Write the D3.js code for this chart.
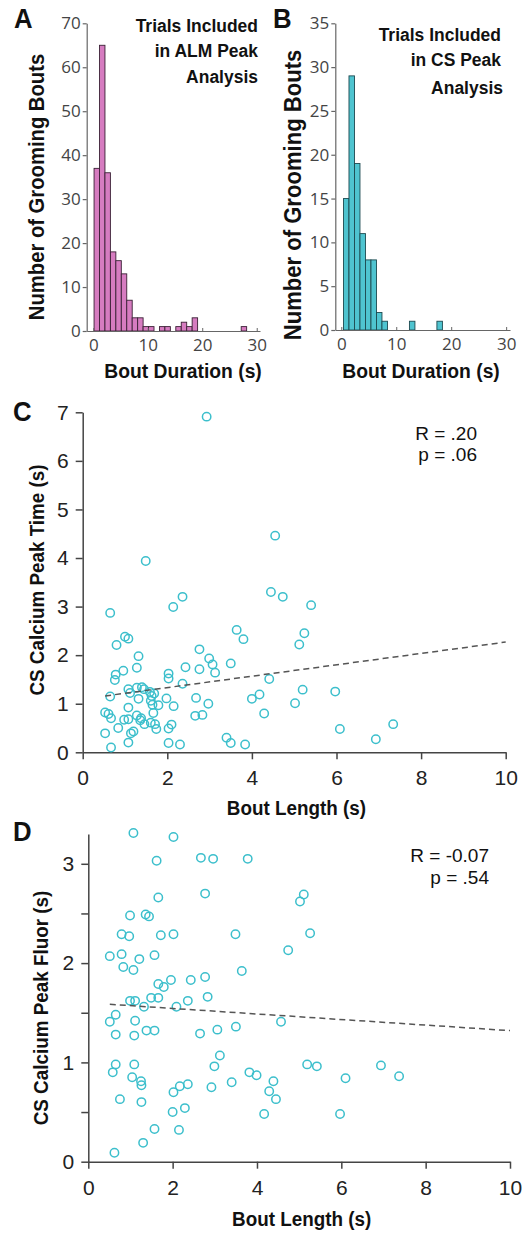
<!DOCTYPE html>
<html>
<head>
<meta charset="utf-8">
<script src="https://cdn.jsdelivr.net/npm/d3@7"></script>
<style>
	body { margin: 0; background: #fff; }
	svg { display: block; }
</style>
</head>
<body>
<svg id="fig" width="522" height="1234"></svg>
<script>
/* global d3 */

// ---- histogram data (bout durations, 1 s bins) ----
const almEdges = [0.15, 1.15, 2.15, 3.15, 4.15, 5.15, 6.15, 7.15, 8.15, 9.15, 10.15, 11.15, 12.15, 13.15, 14.15,
	15.15, 16.15, 17.15, 18.15, 19.15, 20.15, 21.15, 22.15, 23.15, 24.15, 25.15, 26.15, 27.15, 28.15, 29.15, 30.15];
const almCounts = [37, 65, 36, 18, 16, 13, 7, 3, 3, 1, 1, 0, 1, 1, 0, 1, 2, 1, 3, 0, 0, 0, 0, 0, 0, 0, 0, 1, 0, 0];

const csEdges = [0.4, 1.4, 2.4, 3.4, 4.4, 5.4, 6.4, 7.4, 8.4, 9.4, 10.4, 11.4, 12.4, 13.4, 14.4, 15.4, 16.4, 17.4, 18.4];
const csCounts = [15, 29, 19, 11, 8, 8, 2, 1, 0, 0, 0, 0, 1, 0, 0, 0, 0, 1];

const histXTicks = [0, 10, 20, 30];
const almYTicks = [0, 10, 20, 30, 40, 50, 60, 70];
const csYTicks = [0, 5, 10, 15, 20, 25, 30, 35];

// ---- scatter data: [bout length (s), value] ----
const peakTime = [
	[0.65, 2.87], [1.00, 2.38], [1.08, 2.34], [0.80, 2.21], [1.32, 1.98], [1.28, 1.74], [0.96, 1.68], [0.78, 1.60],
	[0.76, 1.49], [0.65, 1.15], [1.08, 1.30], [1.12, 1.22], [1.28, 1.33], [1.40, 1.34], [1.32, 1.10], [1.59, 1.24],
	[1.63, 1.16], [1.61, 1.06], [1.65, 0.98], [1.79, 0.97], [1.67, 0.81], [1.98, 1.11], [2.15, 0.95], [1.08, 0.92],
	[0.53, 0.82], [0.61, 0.79], [0.67, 0.70], [0.98, 0.67], [1.08, 0.68], [1.28, 0.76], [1.38, 0.70], [1.46, 0.58],
	[1.61, 0.61], [1.71, 0.58], [1.74, 0.48], [0.84, 0.50], [1.14, 0.39], [1.20, 0.43], [0.53, 0.39], [1.08, 0.20],
	[0.67, 0.10], [2.03, 0.19], [2.30, 0.16], [2.03, 0.49], [2.10, 0.57], [2.03, 1.62], [2.03, 1.52], [2.36, 1.41],
	[2.43, 1.75], [2.14, 2.99], [2.36, 3.20], [2.76, 2.12], [2.76, 1.71], [2.99, 1.93], [3.07, 1.81], [3.13, 1.64],
	[2.68, 1.12], [2.97, 1.00], [2.66, 0.75], [2.83, 0.77], [3.50, 1.83], [3.64, 2.52], [3.80, 2.33], [3.40, 0.30],
	[3.50, 0.19], [3.84, 0.16], [4.00, 1.10], [4.18, 1.19], [4.29, 0.80], [4.41, 1.51], [5.02, 1.01], [5.12, 2.22],
	[5.24, 2.45], [5.20, 1.29], [5.97, 1.25], [6.08, 0.48], [6.93, 0.27], [7.34, 0.58], [1.49, 3.94], [2.93, 6.91],
	[4.55, 4.46], [4.45, 3.30], [4.73, 3.20], [5.40, 3.03], [1.45, 1.30], [1.69, 1.21], [1.36, 0.66]
];
const peakTimeFit = [[0.53, 1.16], [10, 2.27]];

const peakFluor = [
	[1.07, 3.31], [2.02, 3.27], [1.62, 3.03], [2.67, 3.06], [2.96, 3.05], [3.78, 3.05], [1.66, 2.66], [2.77, 2.70],
	[5.11, 2.69], [5.02, 2.62], [0.99, 2.48], [1.36, 2.49], [1.44, 2.47], [0.79, 2.29], [0.97, 2.27], [1.72, 2.28],
	[2.02, 2.29], [3.49, 2.29], [5.26, 2.30], [0.51, 2.07], [0.79, 2.09], [1.21, 2.04], [1.57, 2.08], [4.74, 2.13],
	[0.83, 1.96], [1.07, 1.93], [3.64, 1.92], [2.77, 1.86], [1.66, 1.79], [1.79, 1.76], [1.96, 1.83], [2.43, 1.83],
	[2.83, 1.66], [2.36, 1.62], [0.99, 1.62], [1.11, 1.62], [1.49, 1.65], [1.66, 1.65], [1.32, 1.56], [2.09, 1.56],
	[0.65, 1.48], [0.51, 1.41], [1.11, 1.42], [4.57, 1.41], [0.65, 1.28], [1.09, 1.27], [1.38, 1.32], [1.57, 1.32],
	[2.65, 1.29], [3.06, 1.33], [3.50, 1.36], [0.65, 0.98], [1.09, 0.98], [0.58, 0.90], [1.04, 0.85], [1.25, 0.81],
	[1.26, 0.77], [0.75, 0.63], [1.26, 0.60], [3.12, 1.07], [2.99, 0.96], [2.92, 0.75], [2.02, 0.70], [2.17, 0.76],
	[2.36, 0.78], [2.00, 0.50], [2.29, 0.54], [1.57, 0.33], [2.15, 0.32], [1.30, 0.19], [0.62, 0.09], [3.40, 0.80],
	[3.82, 0.90], [3.99, 0.87], [4.39, 0.81], [4.29, 0.71], [4.45, 0.63], [4.17, 0.48], [5.19, 0.98], [5.42, 0.96],
	[5.97, 0.48], [6.10, 0.84], [6.94, 0.97], [7.37, 0.86]
];
const peakFluorFit = [[0.51, 1.585], [10, 1.32]];

const scatterXTicks = [0, 2, 4, 6, 8, 10];
const peakTimeTicks = [0, 1, 2, 3, 4, 5, 6, 7];
const peakFluorTicks = [0, 0.5, 1, 1.5, 2, 2.5, 3];

const svg = d3.select('#fig');

const titleFont = '"Liberation Sans", Arial, sans-serif';
const tickFontHist = '"Open Sans", "DejaVu Sans", sans-serif';
const tickFontScatter = '"Liberation Sans", Arial, sans-serif';

// condensed bold-ish label (bold sans squeezed horizontally)
function label(x, y, str, o) {
	const opts = Object.assign({size: 21, anchor: 'middle', rotate: 0, sx: 0.92, weight: 'bold', fill: '#111'}, o);
	svg.append('text')
		.attr('transform', `translate(${x},${y}) rotate(${opts.rotate}) scale(${opts.sx},1)`)
		.attr('text-anchor', opts.anchor)
		.attr('font-family', titleFont)
		.attr('font-weight', opts.weight)
		.attr('font-size', opts.size)
		.attr('fill', opts.fill)
		.text(str);
}

function styleAxis(g, color, width, font, size, textColor) {
	g.select('.domain').attr('stroke', color).attr('stroke-width', width);
	g.selectAll('.tick line').attr('stroke', color).attr('stroke-width', width);
	g.selectAll('.tick text')
		.attr('font-family', font)
		.attr('font-size', size)
		.attr('fill', textColor);
}

function drawHistogram(cfg) {
	const x = d3.scaleLinear().domain(cfg.xDomain).range(cfg.xRange);
	const y = d3.scaleLinear().domain(cfg.yDomain).range(cfg.yRange);

	const bins = cfg.counts.map((c, i) => ({x0: cfg.edges[i], x1: cfg.edges[i + 1], n: c}));

	svg.append('g')
		.selectAll('rect')
		.data(bins)
		.enter().append('rect')
		.attr('x', d => x(d.x0))
		.attr('width', d => x(d.x1) - x(d.x0))
		.attr('y', d => y(d.n))
		.attr('height', d => y(0) - y(d.n))
		.attr('fill', cfg.fill)
		.attr('stroke', d => (d.n ? cfg.stroke : '#888'))
		.attr('stroke-width', 0.9);

	const xAxis = svg.append('g')
		.attr('transform', `translate(0,${cfg.yRange[0]})`)
		.call(d3.axisBottom(x).tickValues(histXTicks).tickSizeInner(-3).tickSizeOuter(0).tickPadding(8));
	styleAxis(xAxis, '#666', 1, tickFontHist, 17, '#444');

	const yAxis = svg.append('g')
		.attr('transform', `translate(${cfg.xRange[0]},0)`)
		.call(d3.axisLeft(y).tickValues(cfg.yTicks).tickSizeInner(4).tickSizeOuter(0).tickPadding(2));
	styleAxis(yAxis, '#666', 1.2, tickFontHist, 17, '#444');
}

function drawScatter(cfg) {
	const x = d3.scaleLinear().domain([0, 10]).range(cfg.xRange);
	const y = d3.scaleLinear().domain(cfg.yDomain).range(cfg.yRange);

	const xAxis = svg.append('g')
		.attr('transform', `translate(0,${cfg.yRange[0]})`)
		.call(d3.axisBottom(x).tickValues(scatterXTicks).tickSizeInner(7).tickSizeOuter(0).tickPadding(11));
	styleAxis(xAxis, '#444', 1.5, tickFontScatter, 21, '#222');

	const yAxis = svg.append('g')
		.attr('transform', `translate(${cfg.xRange[0]},0)`)
		.call(d3.axisLeft(y).tickValues(cfg.yTicks).tickSizeInner(7).tickSizeOuter(0).tickPadding(7)
			.tickFormat(cfg.tickFormat || (d => d)));
	styleAxis(yAxis, '#444', 1.5, tickFontScatter, 21, '#222');

	svg.append('g')
		.selectAll('circle')
		.data(cfg.points)
		.enter().append('circle')
		.attr('cx', d => x(d[0]))
		.attr('cy', d => y(d[1]))
		.attr('r', 4.2)
		.attr('fill', 'none')
		.attr('stroke', '#3cbfcc')
		.attr('stroke-width', 1.5);

	svg.append('path')
		.datum(cfg.fit)
		.attr('d', d3.line().x(d => x(d[0])).y(d => y(d[1])))
		.attr('fill', 'none')
		.attr('stroke', '#555')
		.attr('stroke-width', 1.5)
		.attr('stroke-dasharray', '6,4');
}

// ---- A ----
drawHistogram({
	edges: almEdges, counts: almCounts, yTicks: almYTicks,
	xDomain: [-1.2, 30.6], xRange: [86.7, 260],
	yDomain: [0, 70], yRange: [331, 23.3],
	fill: '#d67cc0', stroke: '#3a2035',
});
label(14, 28, 'A', {size: 28, anchor: 'start'});
label(258, 32, 'Trials Included', {size: 19, anchor: 'end'});
label(258, 57, 'in ALM Peak', {size: 19, anchor: 'end'});
label(258, 83, 'Analysis', {size: 19, anchor: 'end'});
label(183, 378, 'Bout Duration (s)');
label(44, 187, 'Number of Grooming Bouts', {size: 22, rotate: -90});

// ---- B ----
drawHistogram({
	edges: csEdges, counts: csCounts, yTicks: csYTicks,
	xDomain: [-1.09, 30.7], xRange: [335.3, 510],
	yDomain: [0, 35], yRange: [330, 23.3],
	fill: '#4fc4d0', stroke: '#1d4a50',
});
label(273, 28, 'B', {size: 28, anchor: 'start'});
label(501, 41, 'Trials Included', {size: 19, anchor: 'end'});
label(501, 66, 'in CS Peak', {size: 19, anchor: 'end'});
label(503, 94, 'Analysis', {size: 19, anchor: 'end'});
label(421, 378, 'Bout Duration (s)');
label(301, 195, 'Number of Grooming Bouts', {size: 24, rotate: -90});

// ---- C ----
drawScatter({
	points: peakTime, fit: peakTimeFit, yTicks: peakTimeTicks,
	xRange: [82.7, 505.7], yDomain: [0, 7], yRange: [752.3, 412.3],
});
label(13, 421, 'C', {size: 28, anchor: 'start'});
label(296.5, 815, 'Bout Length (s)', {size: 20.5});
label(44, 580, 'CS Calcium Peak Time (s)', {size: 20.5, rotate: -90});
label(477, 440, 'R = .20', {size: 19, anchor: 'end', weight: 'normal', sx: 1});
label(477, 461, 'p = .06', {size: 19, anchor: 'end', weight: 'normal', sx: 1});

// ---- D ----
drawScatter({
	points: peakFluor, fit: peakFluorFit, yTicks: peakFluorTicks,
	xRange: [88.3, 510], yDomain: [0, 3.3], yRange: [1161.7, 834],
	tickFormat: d => (Number.isInteger(d) ? d : ''),
});
label(13, 841, 'D', {size: 28, anchor: 'start'});
label(301.7, 1226, 'Bout Length (s)', {size: 20.5});
label(48, 1008, 'CS Calcium Peak Fluor (s)', {size: 20.5, rotate: -90});
label(489, 862, 'R = -0.07', {size: 19, anchor: 'end', weight: 'normal', sx: 1});
label(489, 884, 'p = .54', {size: 19, anchor: 'end', weight: 'normal', sx: 1});
</script>
</body>
</html>
